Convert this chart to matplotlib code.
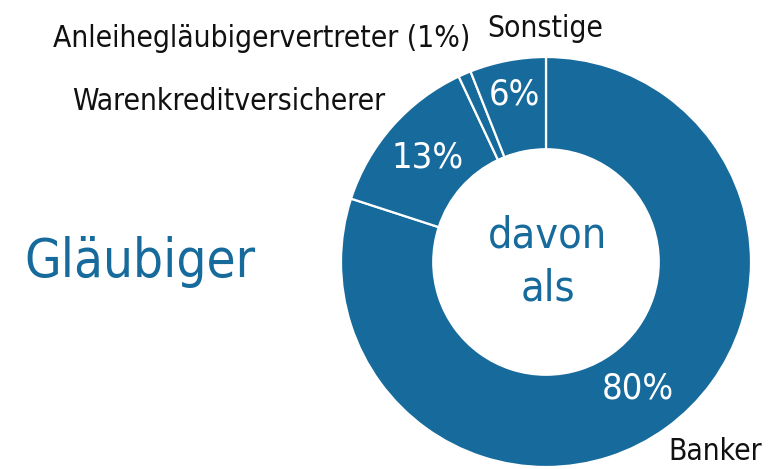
import numpy as np
import matplotlib.pyplot as plt
from matplotlib import font_manager

# schmale Schrift suchen, sonst Liberation Sans etwas kleiner
fonts = font_manager.fontManager.ttflist
narrow = [f for f in fonts if ('Narrow' in f.name or 'Condensed' in f.name
                               or f.stretch in ('condensed', 'semi-condensed', 500 - 200))
          and 'Mono' not in f.name and 'Serif' not in f.name]
if narrow:
    FONT = narrow[0].name
    STRETCH = narrow[0].stretch
    scale = 1.0
else:
    FONT = 'Liberation Sans'
    STRETCH = 'normal'
    scale = 0.84
plt.rcParams['font.family'] = [FONT, 'DejaVu Sans']
plt.rcParams['font.stretch'] = STRETCH

# Daten
labels = ['Banker', 'Warenkreditversicherer', 'Anleihegläubigervertreter (1%)', 'Sonstige']
values = [80, 13, 1, 6]
pct_text = ['80%', '13%', '', '6%']

blue = '#176b9c'

W, H = 784, 469
fig = plt.figure(figsize=(W / 100, H / 100), dpi=100)

# Ring: Mitte (546, 262) px, Radius 205 px
cx, cy, r = 546, H - 262, 205
ax = fig.add_axes([(cx - r) / W, (cy - r) / H, 2 * r / W, 2 * r / H])
wedges, _ = ax.pie(values, startangle=90, counterclock=False, radius=1,
                   colors=[blue] * 4,
                   wedgeprops=dict(width=0.45, edgecolor='white', linewidth=1.6))
ax.set_xlim(-1, 1)
ax.set_ylim(-1, 1)
ax.set_aspect('equal')
for w in wedges:
    w.set_clip_on(False)

# Prozentwerte im Ring
dist = [0.76, 0.77, 0.77, 0.83]
for w, t, d in zip(wedges, pct_text, dist):
    if not t:
        continue
    ang = np.deg2rad((w.theta1 + w.theta2) / 2)
    ax.text(d * np.cos(ang), d * np.sin(ang), t, ha='center', va='center',
            color='white', fontsize=26 * scale)

# Beschriftungen (Pixelkoordinaten, Grundlinie)
def px(x, y):
    return x / W, 1 - y / H

fig.text(*px(548, 247), 'davon', ha='center', va='baseline', color=blue, fontsize=31 * scale)
fig.text(*px(548, 300), 'als', ha='center', va='baseline', color=blue, fontsize=31 * scale)

fs = 21.5 * scale
fig.text(*px(668, 460), labels[0], ha='left', va='baseline', fontsize=fs, color='#111111')
fig.text(*px(385, 110), labels[1], ha='right', va='baseline', fontsize=fs, color='#111111')
fig.text(*px(470, 47), labels[2], ha='right', va='baseline', fontsize=fs, color='#111111')
fig.text(*px(487, 37), labels[3], ha='left', va='baseline', fontsize=fs, color='#111111')

fig.text(*px(24, 277), 'Gläubiger', ha='left', va='baseline', fontsize=38 * scale, color=blue)

fig.savefig('out.png', dpi=100)
